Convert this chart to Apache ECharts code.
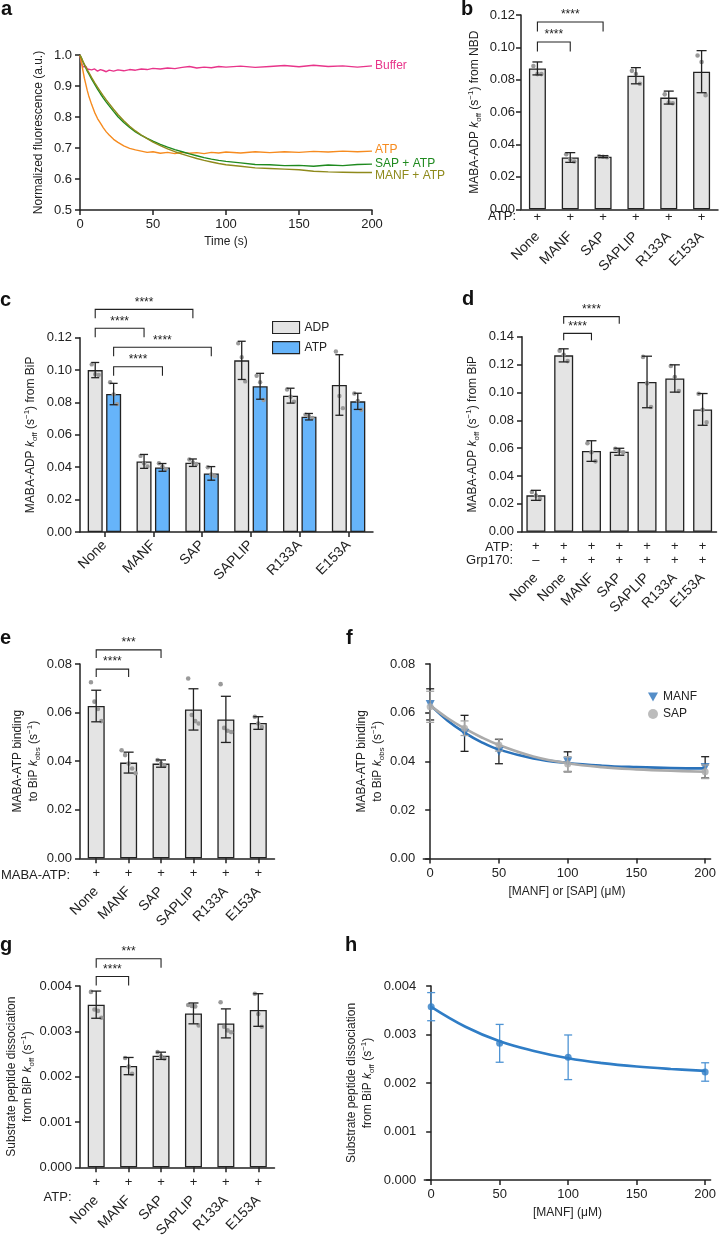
<!DOCTYPE html>
<html><head><meta charset="utf-8">
<script src="https://cdn.jsdelivr.net/npm/echarts@6/dist/echarts.min.js"></script>
<style>html,body{margin:0;padding:0;background:#fff}#c{width:719px;height:1240px}</style>
</head><body><div id="c"></div>
<script>
// ===================== DATA =====================
// Panel a: fluorescence traces
const aTraceLabels = ['Buffer','ATP','SAP + ATP','MANF + ATP'];
const aTime   = [0,1,2,3,4,5,6,8,10,12,14,16,18,20,23,26,30,34,38,42,46,50,55,60,65,70,75,80,85,90,95,100,110,120,130,140,150,160,170,180,190,200];
const aBuffer = [1.0,0.975,0.962,0.958,0.963,0.955,0.958,0.952,0.955,0.948,0.953,0.950,0.946,0.951,0.948,0.952,0.949,0.953,0.951,0.955,0.953,0.957,0.955,0.958,0.956,0.960,0.963,0.958,0.961,0.959,0.963,0.961,0.964,0.960,0.963,0.966,0.962,0.967,0.963,0.965,0.961,0.965];
const aATP    = [1.0,0.975,0.95,0.925,0.905,0.885,0.868,0.84,0.815,0.795,0.78,0.765,0.752,0.742,0.728,0.718,0.707,0.699,0.694,0.69,0.686,0.688,0.683,0.686,0.682,0.686,0.683,0.685,0.682,0.686,0.684,0.687,0.684,0.688,0.685,0.688,0.686,0.689,0.687,0.690,0.688,0.690];
const aSAP    = [1.0,0.99,0.978,0.968,0.958,0.948,0.94,0.922,0.906,0.89,0.875,0.861,0.848,0.836,0.818,0.801,0.782,0.766,0.752,0.741,0.731,0.722,0.712,0.703,0.695,0.688,0.681,0.675,0.669,0.664,0.66,0.657,0.652,0.647,0.646,0.643,0.644,0.641,0.645,0.643,0.647,0.648];
const aMANF   = [1.0,0.99,0.98,0.97,0.961,0.952,0.944,0.927,0.911,0.896,0.882,0.868,0.855,0.843,0.825,0.808,0.788,0.770,0.755,0.742,0.730,0.719,0.708,0.697,0.688,0.680,0.673,0.666,0.660,0.655,0.650,0.646,0.641,0.636,0.634,0.632,0.630,0.625,0.623,0.622,0.621,0.621];

// Panel b
const bCats = ['None','MANF','SAP','SAPLIP','R133A','E153A'];
const bATPRow = ['+','+','+','+','+','+'];
const bMean = [0.087,0.032,0.0325,0.0825,0.069,0.085];
const bSD   = [0.004,0.003,0.0006,0.005,0.004,0.013];
const bDots = [[0.0885,0.0835,0.0835],[0.034,0.031,0.0295],[0.0328,0.0325,0.0322],[0.0855,0.0835,0.0775],[0.071,0.066,0.0655],[0.095,0.091,0.0705]];
const bBrackets = [{from:0,to:1,y:0.1033,label:'****'},{from:0,to:2,y:0.1157,label:'****'}];

// Panel c
const cCats = ['None','MANF','SAP','SAPLIP','R133A','E153A'];
const cSeriesNames = ['ADP','ATP'];
const cADPMean = [0.100,0.0436,0.0428,0.106,0.0842,0.0908];
const cADPSD   = [0.0047,0.0043,0.0023,0.0118,0.0046,0.0187];
const cATPMean = [0.0852,0.0399,0.0362,0.090,0.0712,0.0807];
const cATPSD   = [0.0066,0.0024,0.0042,0.008,0.002,0.005];
const cADPDots = [[0.1035,0.0975,0.097],[0.047,0.0425,0.0405],[0.0448,0.043,0.042],[0.1165,0.108,0.093],[0.088,0.0835,0.0805],[0.1115,0.084,0.0765]];
const cATPDots = [[0.0925,0.085,0.079],[0.0425,0.0405,0.039],[0.040,0.0355,0.0345],[0.0965,0.0925,0.0815],[0.0725,0.0715,0.0705],[0.0855,0.081,0.0755]];
const cBrackets = [
  {from:0,fs:0,to:2,ts:0,y:0.1375,label:'****'},
  {from:0,fs:0,to:1,ts:0,y:0.1258,label:'****'},
  {from:0,fs:1,to:2,ts:1,y:0.1141,label:'****'},
  {from:0,fs:1,to:1,ts:1,y:0.1021,label:'****'}
];

// Panel d
const dCats = ['None','None','MANF','SAP','SAPLIP','R133A','E153A'];
const dATPRow = ['+','+','+','+','+','+','+'];
const dGrpRow = ['–','+','+','+','+','+','+'];
const dMean = [0.0261,0.1266,0.0579,0.0574,0.1075,0.110,0.0878];
const dSD   = [0.0036,0.0047,0.0074,0.0025,0.0185,0.0098,0.0114];
const dDots = [[0.0285,0.026,0.0235],[0.130,0.127,0.1225],[0.0635,0.057,0.0505],[0.0595,0.058,0.057],[0.1255,0.1065,0.0895],[0.119,0.111,0.101],[0.099,0.0875,0.0785]];
const dBrackets = [{from:1,to:3,y:0.1544,label:'****'},{from:1,to:2,y:0.1424,label:'****'}];

// Panel e
const eCats = ['None','MANF','SAP','SAPLIP','R133A','E153A'];
const eRow = ['+','+','+','+','+','+'];
const eMean = [0.0627,0.0394,0.039,0.0613,0.0572,0.0557];
const eSD   = [0.0065,0.0043,0.0015,0.0085,0.0095,0.0026];
const eDots = [[0.0725,0.0645,0.0615,0.0565],[0.0445,0.0425,0.039,0.037,0.035],[0.0405,0.039,0.038],[0.074,0.059,0.0565,0.0555],[0.0717,0.0537,0.0525,0.052],[0.0583,0.0555,0.054]];
const eBrackets = [{from:0,to:2,y:0.0858,label:'***'},{from:0,to:1,y:0.0779,label:'****'}];

// Panel f
const fConc = [0,25,50,100,200];
const fManfMean = [0.0634,0.0515,0.044,0.0398,0.0375];
const fManfSD   = [0.0064,0.0074,0.005,0.0041,0.0044];
const fSapMean  = [0.0624,0.0536,0.0467,0.0389,0.0357];
const fSapSD    = [0.0064,0.003,0.0025,0.003,0.0028];
const fFitX     = [0,12.5,25,37.5,50,75,100,125,150,175,200];
const fManfFit  = [0.0632,0.0568,0.0518,0.0478,0.0448,0.0412,0.0393,0.0382,0.0376,0.0372,0.0371];
const fSapFit   = [0.0630,0.0578,0.0535,0.0498,0.0467,0.0420,0.0392,0.0376,0.0367,0.0361,0.0357];
const fXTicks = [0,50,100,150,200];

// Panel g
const gCats = ['None','MANF','SAP','SAPLIP','R133A','E153A'];
const gRow = ['+','+','+','+','+','+'];
const gMean = [0.003588,0.002233,0.00246,0.003395,0.003175,0.00347];
const gSD   = [0.00030,0.00019,0.00008,0.00023,0.00032,0.00036];
const gDots = [[0.00387,0.00348,0.00345,0.0033],[0.00241,0.00222,0.00206],[0.00254,0.00245,0.0024],[0.00358,0.00356,0.00355,0.00313],[0.00364,0.0031,0.00302,0.00298],[0.00383,0.00338,0.0031]];
const gBrackets = [{from:0,to:2,y:0.0046,label:'***'},{from:0,to:1,y:0.00421,label:'****'}];

// Panel h
const hConc = [0,50,100,200];
const hMean = [0.003574,0.002818,0.00253,0.002227];
const hSD   = [0.00029,0.00039,0.00046,0.00019];
const hFitX = [0,25,50,75,100,125,150,175,200];
const hFit  = [0.00357,0.00316,0.00286,0.00266,0.00251,0.00241,0.00234,0.00229,0.00225];
const hXTicks = [0,50,100,150,200];

// ===================== STYLE / HELPERS =====================
const FF = '"Liberation Sans", Arial, Helvetica, sans-serif';
const INK = '#222';
const BAR_GRAY = '#e4e4e4';
const BAR_BLUE = '#66b4fa';
const DOT = '#9a9a9a';
const CAT_FS = 14;
const richName = {
  i:{fontStyle:'italic', fontSize:12, fontFamily:FF, color:INK},
  sub:{fontSize:8, fontFamily:FF, color:INK, verticalAlign:'bottom', lineHeight:8},
  sup:{fontSize:8, fontFamily:FF, color:INK, verticalAlign:'top', lineHeight:8}
};
function yVal(gi, min, max, interval, dec, name, gap, margin) {
  return {type:'value', gridIndex:gi, min, max, interval,
    axisLine:{show:true, lineStyle:{color:INK, width:1.5}},
    axisTick:{show:true, length:5, lineStyle:{color:INK, width:1.5}},
    splitLine:{show:false},
    axisLabel:{color:INK, fontSize:13, fontFamily:FF, margin:margin||8, formatter:v=>v.toFixed(dec)},
    name, nameLocation:'middle', nameGap:gap, nameRotate:90,
    nameTextStyle:{color:INK, fontSize:12, fontFamily:FF, lineHeight:16, align:'center', rich:richName}};
}
function xCat(gi, cats, opts) {
  return Object.assign({type:'category', gridIndex:gi, data:cats, position:'bottom', boundaryGap:true,
    axisLine:{show:true, lineStyle:{color:INK, width:1.5}},
    axisTick:{show:true, length:5, alignWithLabel:true, lineStyle:{color:INK, width:1.5}},
    axisLabel:{interval:0, color:INK, fontSize:13, fontFamily:FF}}, opts);
}
function xNames(gi, cats, margin) {
  return {type:'category', gridIndex:gi, data:cats, position:'bottom', boundaryGap:true,
    axisLine:{show:false}, axisTick:{show:false},
    axisLabel:{interval:0, rotate:45, margin, color:INK, fontSize:CAT_FS, fontFamily:FF}};
}
function xVal(gi, ticks, name) {
  return {type:'value', gridIndex:gi, min:-5, max:204,
    axisLine:{show:true, onZero:false, lineStyle:{color:INK, width:1.5}},
    axisTick:{show:true, length:5, customValues:ticks, lineStyle:{color:INK, width:1.5}},
    axisLabel:{customValues:ticks, color:INK, fontSize:13, fontFamily:FF, margin:8},
    splitLine:{show:false},
    name, nameLocation:'middle', nameGap:27, nameTextStyle:{color:INK, fontSize:12, fontFamily:FF}};
}
function errRender(offset, cap, color, lw) {
  return (params, api) => {
    const x = api.value(0), m = api.value(1), s = api.value(2);
    const p1 = api.coord([x, m + s]), p2 = api.coord([x, m - s]);
    const cx = p1[0] + offset;
    const st = {stroke:color, lineWidth:lw};
    return {type:'group', children:[
      {type:'line', shape:{x1:cx, y1:p1[1], x2:cx, y2:p2[1]}, style:st},
      {type:'line', shape:{x1:cx-cap, y1:p1[1], x2:cx+cap, y2:p1[1]}, style:st},
      {type:'line', shape:{x1:cx-cap, y1:p2[1], x2:cx+cap, y2:p2[1]}, style:st}
    ]};
  };
}
function dotRender(offset, step, r) {
  return (params, api) => {
    const x = api.value(0), v = api.value(1), j = api.value(2), n = api.value(3);
    const p = api.coord([x, v]);
    return {type:'circle', shape:{cx:p[0] + offset + (j - (n - 1) / 2) * step, cy:p[1], r}, style:{fill:DOT}};
  };
}
function bracketRender(list, slotOff, drop) {
  return (params, api) => {
    const b = list[params.dataIndex];
    const p1 = api.coord([b.from, b.y]), p2 = api.coord([b.to, b.y]);
    const x1 = p1[0] + slotOff[b.fs || 0], x2 = p2[0] + slotOff[b.ts || 0], y = p1[1];
    const st = {stroke:INK, lineWidth:1.1, fill:null};
    return {type:'group', children:[
      {type:'polyline', shape:{points:[[x1, y + drop], [x1, y], [x2, y], [x2, y + drop]]}, style:st},
      {type:'text', x:(x1 + x2) / 2, y:y - 1, style:{text:b.label, fill:INK, font:'12px ' + FF, align:'center', verticalAlign:'bottom'}}
    ]};
  };
}
const errData = (means, sds, xs) => means.map((m, i) => [xs ? xs[i] : i, m, sds[i]]);
const dotData = arr => arr.flatMap((vals, i) => vals.map((v, j) => [i, v, j, vals.length]));
function custom(xi, yi, data, renderItem, z) {
  return {type:'custom', xAxisIndex:xi, yAxisIndex:yi, data, renderItem, clip:false, z, silent:true};
}
function bars(name, xi, yi, vals, color, width, extra) {
  return Object.assign({type:'bar', name, xAxisIndex:xi, yAxisIndex:yi, data:vals, barWidth:width,
    itemStyle:{color, borderColor:INK, borderWidth:1.3}, z:2, silent:true}, extra);
}

// ===================== LAYOUT =====================
const grids = [
  {left:80,  top:55,   width:292, height:155},   // a
  {left:521, top:15,   width:197, height:194.3}, // b
  {left:80,  top:337.7,width:293, height:194.3}, // c
  {left:522, top:336.7,width:194.5, height:195}, // d
  {left:80,  top:664,  width:194.5, height:194.3}, // e
  {left:423.3, top:664, width:292, height:194.6}, // f
  {left:80,  top:986,  width:194.5, height:194}, // g
  {left:424.3, top:986, width:292, height:194}   // h
];

const xAxes = [
  // 0 a
  {type:'value', gridIndex:0, min:0, max:200, interval:50,
    axisLine:{show:true, onZero:false, lineStyle:{color:INK, width:1.5}},
    axisTick:{show:true, length:5, lineStyle:{color:INK, width:1.5}},
    axisLabel:{color:INK, fontSize:13, fontFamily:FF, margin:8}, splitLine:{show:false},
    name:'Time (s)', nameLocation:'middle', nameGap:26, nameTextStyle:{color:INK, fontSize:12, fontFamily:FF}},
  // 1 b main (+ row)
  xCat(1, bCats, {axisTick:{show:false}, axisLabel:{interval:0, color:INK, fontSize:13, fontFamily:FF, margin:2, formatter:(v,i)=>bATPRow[i]}}),
  // 2 b names
  xNames(1, bCats, 25),
  // 3 c main (names)
  xCat(2, cCats, {axisLabel:{interval:0, rotate:45, margin:11, color:INK, fontSize:CAT_FS, fontFamily:FF}}),
  // 4 d main (two rows)
  xCat(3, dCats, {axisTick:{show:false}, axisLabel:{interval:0, color:INK, fontSize:13, fontFamily:FF, margin:8, lineHeight:13.5, formatter:(v,i)=>dATPRow[i] + '\n' + dGrpRow[i]}}),
  // 5 d names
  xNames(3, dCats, 44),
  // 6 e main (+ row)
  xCat(4, eCats, {axisLabel:{interval:0, color:INK, fontSize:13, fontFamily:FF, margin:9, formatter:(v,i)=>eRow[i]}}),
  // 7 e names
  xNames(4, eCats, 31),
  // 8 f
  xVal(5, fXTicks, '[MANF] or [SAP] (μM)'),
  // 9 g main
  xCat(6, gCats, {axisLabel:{interval:0, color:INK, fontSize:13, fontFamily:FF, margin:9, formatter:(v,i)=>gRow[i]}}),
  // 10 g names
  xNames(6, gCats, 31),
  // 11 h
  xVal(7, hXTicks, '[MANF] (μM)')
];

const yAxes = [
  yVal(0, 0.5, 1.0, 0.1, 1, 'Normalized fluorescence (a.u.)', 33),
  yVal(1, 0, 0.12, 0.02, 2, 'MABA-ADP {i|k}{sub|off} (s{sup|−1}) from NBD', 38, 6),
  yVal(2, 0, 0.12, 0.02, 2, 'MABA-ADP {i|k}{sub|off} (s{sup|−1}) from BiP', 41),
  yVal(3, 0, 0.14, 0.02, 2, 'MABA-ADP {i|k}{sub|off} (s{sup|−1}) from BiP', 41),
  yVal(4, 0, 0.08, 0.02, 2, 'MABA-ATP binding\nto BiP {i|k}{sub|obs} (s{sup|−1})', 38),
  yVal(5, 0, 0.08, 0.02, 2, 'MABA-ATP binding\nto BiP {i|k}{sub|obs} (s{sup|−1})', 35),
  yVal(6, 0, 0.004, 0.001, 3, 'Substrate peptide dissociation\nfrom BiP {i|k}{sub|off} (s{sup|−1})', 42),
  yVal(7, 0, 0.004, 0.001, 3, 'Substrate peptide dissociation\nfrom BiP {i|k}{sub|off} (s{sup|−1})', 49)
];

// ===================== SERIES =====================
function trace(idx, vals, color, dy) {
  return {type:'line', name:'trace-' + aTraceLabels[idx], xAxisIndex:0, yAxisIndex:0, data:aTime.map((t,i)=>[t, vals[i]]),
    showSymbol:false, lineStyle:{color, width:1.4}, itemStyle:{color}, silent:true, z:3,
    endLabel:{show:true, formatter:()=>aTraceLabels[idx], color, fontSize:12, fontFamily:FF, distance:3, offset:[0, dy||0]}};
}
const C_OFF = [-9.2, 9.2];
const series = [
  trace(0, aBuffer, '#e8348a'),
  trace(1, aATP, '#f68b1f', -1),
  trace(2, aSAP, '#1f8a1f', 0),
  trace(3, aMANF, '#8f8a1c', 3),

  // b
  bars('b', 1, 1, bMean, BAR_GRAY, 17),
  custom(1, 1, dotData(bDots), dotRender(0, 4, 2.3), 3),
  custom(1, 1, errData(bMean, bSD), errRender(0, 5, INK, 1.3), 4),
  custom(1, 1, bBrackets.map(b=>[b.from, b.y]), bracketRender(bBrackets, [0], 9.5), 5),

  // c
  bars(cSeriesNames[0], 3, 2, cADPMean, BAR_GRAY, 15, {barGap:'23%'}),
  bars(cSeriesNames[1], 3, 2, cATPMean, BAR_BLUE, 15, {barGap:'23%'}),
  custom(3, 2, dotData(cADPDots), dotRender(C_OFF[0], 3.5, 2.2), 3),
  custom(3, 2, dotData(cATPDots), dotRender(C_OFF[1], 3.5, 2.2), 3),
  custom(3, 2, errData(cADPMean, cADPSD), errRender(C_OFF[0], 4, INK, 1.3), 4),
  custom(3, 2, errData(cATPMean, cATPSD), errRender(C_OFF[1], 4, INK, 1.3), 4),
  custom(3, 2, cBrackets.map(b=>[b.from, b.y]), bracketRender(cBrackets, C_OFF, 9), 5),

  // d
  bars('d', 4, 3, dMean, BAR_GRAY, 19),
  custom(4, 3, dotData(dDots), dotRender(0, 4, 2.3), 3),
  custom(4, 3, errData(dMean, dSD), errRender(0, 5, INK, 1.3), 4),
  custom(4, 3, dBrackets.map(b=>[b.from, b.y]), bracketRender(dBrackets, [0], 7), 5),

  // e
  bars('e', 6, 4, eMean, BAR_GRAY, 17),
  custom(6, 4, dotData(eDots), dotRender(0, 3.5, 2.3), 3),
  custom(6, 4, errData(eMean, eSD), errRender(0, 5, INK, 1.3), 4),
  custom(6, 4, eBrackets.map(b=>[b.from, b.y]), bracketRender(eBrackets, [0], 8), 5),

  // f
  custom(8, 5, errData(fManfMean, fManfSD, fConc), errRender(0, 4, INK, 1.3), 3),
  {type:'line', name:'MANF fit', xAxisIndex:8, yAxisIndex:5, data:fFitX.map((x,i)=>[x, fManfFit[i]]), smooth:0.4, showSymbol:false, lineStyle:{color:'#2a72ba', width:2.6}, z:4, silent:true},
  {type:'line', name:'SAP fit', xAxisIndex:8, yAxisIndex:5, data:fFitX.map((x,i)=>[x, fSapFit[i]]), smooth:0.4, showSymbol:false, lineStyle:{color:'#ababab', width:2.6}, z:5, silent:true},
  {type:'scatter', name:'MANF', xAxisIndex:8, yAxisIndex:5, data:fConc.map((x,i)=>[x, fManfMean[i]]), symbol:'path://M0,0L10,0L5,9Z', symbolSize:9, itemStyle:{color:'#2a72ba'}, z:6, silent:true},
  custom(8, 5, errData(fSapMean, fSapSD, fConc), errRender(0, 4, '#a5a5a5', 1.3), 7),
  {type:'scatter', name:'SAP', xAxisIndex:8, yAxisIndex:5, data:fConc.map((x,i)=>[x, fSapMean[i]]), symbol:'circle', symbolSize:7, itemStyle:{color:'#ababab'}, z:8, silent:true},

  // g
  bars('g', 9, 6, gMean, BAR_GRAY, 17),
  custom(9, 6, dotData(gDots), dotRender(0, 3.5, 2.3), 3),
  custom(9, 6, errData(gMean, gSD), errRender(0, 5, INK, 1.3), 4),
  custom(9, 6, gBrackets.map(b=>[b.from, b.y]), bracketRender(gBrackets, [0], 9), 5),

  // h
  custom(11, 7, errData(hMean, hSD, hConc), errRender(0, 4, '#4f94d4', 1.3), 3),
  {type:'line', name:'h fit', xAxisIndex:11, yAxisIndex:7, data:hFitX.map((x,i)=>[x, hFit[i]]), smooth:0.4, showSymbol:false, lineStyle:{color:'#2f7dc6', width:2.6}, z:4, silent:true},
  {type:'scatter', name:'h data', xAxisIndex:11, yAxisIndex:7, data:hConc.map((x,i)=>[x, hMean[i]]), symbol:'circle', symbolSize:7, itemStyle:{color:'#2f7dc6'}, z:5, silent:true}
];

// ===================== GRAPHIC TEXT =====================
const pl = (t, left, top) => ({type:'text', left, top, style:{text:t, font:'bold 20px ' + FF, fill:'#111'}});
const rowLbl = (t, right, cy) => ({type:'text', x:right, y:cy, style:{text:t, font:'13px ' + FF, fill:INK, align:'right', verticalAlign:'middle'}});
const graphic = [
  pl('a', 1, -1), pl('b', 461, -1), pl('c', 0, 290), pl('d', 462, 289),
  pl('e', 0, 628), pl('f', 346, 628), pl('g', 0, 935), pl('h', 345, 935),
  rowLbl('ATP:', 516, 216),
  rowLbl('ATP:', 513, 547), rowLbl('Grp170:', 513, 560.5),
  rowLbl('MABA-ATP:', 70, 875),
  rowLbl('ATP:', 71.5, 1197)
];

const chart = echarts.init(document.getElementById('c'), null, {renderer:'canvas'});
chart.setOption({
  animation:false,
  backgroundColor:'#fff',
  textStyle:{fontFamily:FF},
  grid:grids,
  xAxis:xAxes,
  yAxis:yAxes,
  legend:[
    {data:cSeriesNames, left:267, top:316, orient:'vertical', icon:'rect', itemWidth:27, itemHeight:12, itemGap:7,
      itemStyle:{borderWidth:1.1}, textStyle:{color:INK, fontSize:12, fontFamily:FF}, selectedMode:false},
    {data:[{name:'MANF', icon:'path://M0,0L10,0L5,9Z'}, {name:'SAP', icon:'circle'}], left:643, top:686, orient:'vertical',
      itemWidth:10, itemHeight:10, itemGap:5, textStyle:{color:INK, fontSize:12, fontFamily:FF}, selectedMode:false}
  ],
  series,
  graphic
});
</script></body></html>
